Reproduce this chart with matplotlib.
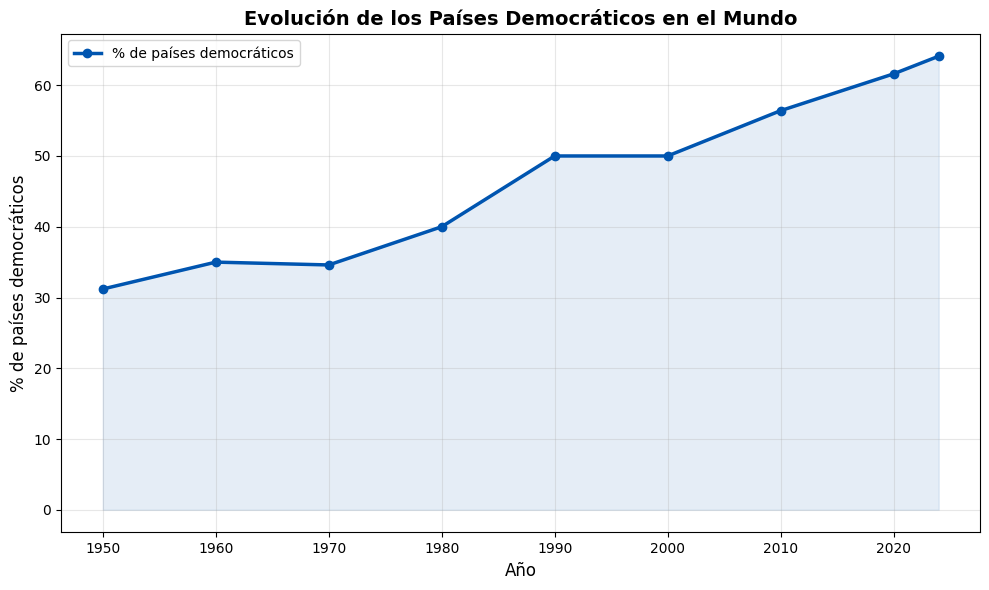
import matplotlib
matplotlib.use("Agg")
import matplotlib.pyplot as plt

years = [1950, 1960, 1970, 1980, 1990, 2000, 2010, 2020, 2024]
pct_democratic = [31.2, 35.0, 34.6, 40.0, 50.0, 50.0, 56.4, 61.6, 64.1]

color = "#0055b0"

fig, ax = plt.subplots(figsize=(9.89, 5.9), dpi=100)
ax.plot(years, pct_democratic, marker="o", color=color, linewidth=2.5,
        markersize=6, label="% de países democráticos")
ax.fill_between(years, pct_democratic, color=color, alpha=0.1)
ax.set_title("Evolución de los Países Democráticos en el Mundo",
             fontsize=14, fontweight="bold")
ax.set_xlabel("Año", fontsize=12)
ax.set_ylabel("% de países democráticos", fontsize=12)
ax.grid(True, alpha=0.3)
ax.legend(loc="upper left")
fig.subplots_adjust(left=0.0617, right=0.9914, top=0.9432, bottom=0.0975)
fig.savefig("out.png", dpi=100)
